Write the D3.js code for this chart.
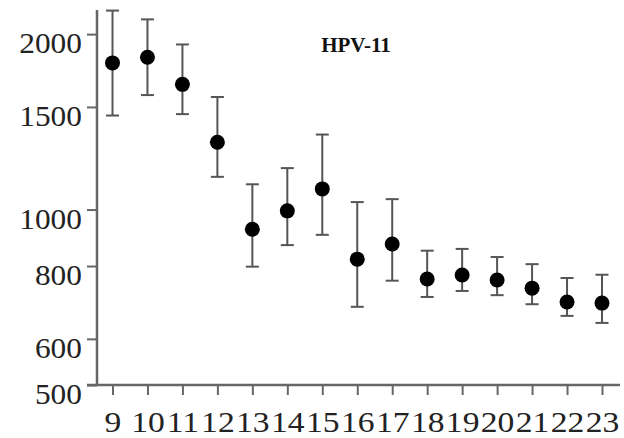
<!DOCTYPE html>
<html>
<head>
<meta charset="utf-8">
<script src="https://cdn.jsdelivr.net/npm/d3@7"></script>
<style>
  body { margin: 0; background: #fff; }
  svg { display: block; }
</style>
</head>
<body>
<script>
// ages on the x axis
var ages = [9, 10, 11, 12, 13, 14, 15, 16, 17, 18, 19, 20, 21, 22, 23];
// mean titre and error bar ends
var mean  = [1785, 1825, 1640, 1305, 925, 995, 1085, 822, 873, 760, 772, 757, 733, 694, 691];
var upper = [2195, 2120, 1920, 1560, 1105, 1178, 1345, 1030, 1042, 850, 856, 829, 806, 763, 773];
var lower = [1450, 1572, 1458, 1138, 798, 869, 905, 681, 755, 708, 725, 713, 688, 657, 639];
var yTicks = [500, 600, 800, 1000, 1500, 2000];
var title = "HPV-11";

var w = 624, h = 438;

var svg = d3.select("body").append("svg")
    .attr("width", w)
    .attr("height", h);

var x = d3.scaleLinear().domain([9, 23]).range([112.5, 602]);
var y = d3.scaleLog().domain([500, 2200]).range([385, 10]);

var axisColor = "#666";
var textColor = "#222";
var font = "'Liberation Serif', 'Times New Roman', serif";

// y axis
var gy = svg.append("g")
    .attr("transform", "translate(97,0)")
    .call(d3.axisLeft(y).tickValues(yTicks).tickFormat(d3.format("d"))
        .tickSize(10).tickSizeOuter(0).tickPadding(4));
gy.select(".domain").remove();
gy.selectAll(".tick line").attr("stroke", axisColor).attr("stroke-width", 2);
gy.selectAll(".tick text")
    .attr("fill", textColor)
    .attr("font-family", font)
    .attr("font-size", "29px")
    .attr("dy", "0.64em")
    .attr("transform", "scale(1.08,1)");

// x axis
var gx = svg.append("g")
    .attr("transform", "translate(0,385)")
    .call(d3.axisBottom(x).tickValues(ages).tickFormat(d3.format("d"))
        .tickSize(10).tickSizeOuter(0).tickPadding(16));
gx.select(".domain").remove();
gx.selectAll(".tick line").attr("stroke", axisColor).attr("stroke-width", 2);
gx.selectAll(".tick text")
    .attr("fill", textColor)
    .attr("font-family", font)
    .attr("font-size", "30px")
    .attr("transform", "scale(1.12,1)");

// axis lines
svg.append("line")
    .attr("x1", 97).attr("x2", 97)
    .attr("y1", y.range()[1]).attr("y2", 386)
    .attr("stroke", axisColor).attr("stroke-width", 2.5);
svg.append("line")
    .attr("x1", 87).attr("x2", 620)
    .attr("y1", 385).attr("y2", 385)
    .attr("stroke", axisColor).attr("stroke-width", 2.5);

var idx = d3.range(ages.length);

// error bars
var bars = svg.append("g")
    .attr("stroke", "#555")
    .attr("stroke-width", 2);

bars.selectAll(".stem")
    .data(idx)
    .enter()
    .append("line")
    .attr("x1", function(i) { return x(ages[i]); })
    .attr("x2", function(i) { return x(ages[i]); })
    .attr("y1", function(i) { return y(upper[i]); })
    .attr("y2", function(i) { return y(lower[i]); });

bars.selectAll(".capTop")
    .data(idx)
    .enter()
    .append("line")
    .attr("x1", function(i) { return x(ages[i]) - 6.5; })
    .attr("x2", function(i) { return x(ages[i]) + 6.5; })
    .attr("y1", function(i) { return y(upper[i]); })
    .attr("y2", function(i) { return y(upper[i]); });

bars.selectAll(".capBottom")
    .data(idx)
    .enter()
    .append("line")
    .attr("x1", function(i) { return x(ages[i]) - 6.5; })
    .attr("x2", function(i) { return x(ages[i]) + 6.5; })
    .attr("y1", function(i) { return y(lower[i]); })
    .attr("y2", function(i) { return y(lower[i]); });

// points
svg.selectAll(".dot")
    .data(idx)
    .enter()
    .append("circle")
    .attr("cx", function(i) { return x(ages[i]); })
    .attr("cy", function(i) { return y(mean[i]); })
    .attr("r", 7.5)
    .attr("fill", "#000");

// title
svg.append("text")
    .attr("x", 356)
    .attr("y", 52)
    .attr("text-anchor", "middle")
    .attr("font-family", font)
    .attr("font-weight", "bold")
    .attr("font-size", "21px")
    .attr("fill", "#111")
    .text(title);
</script>
</body>
</html>
